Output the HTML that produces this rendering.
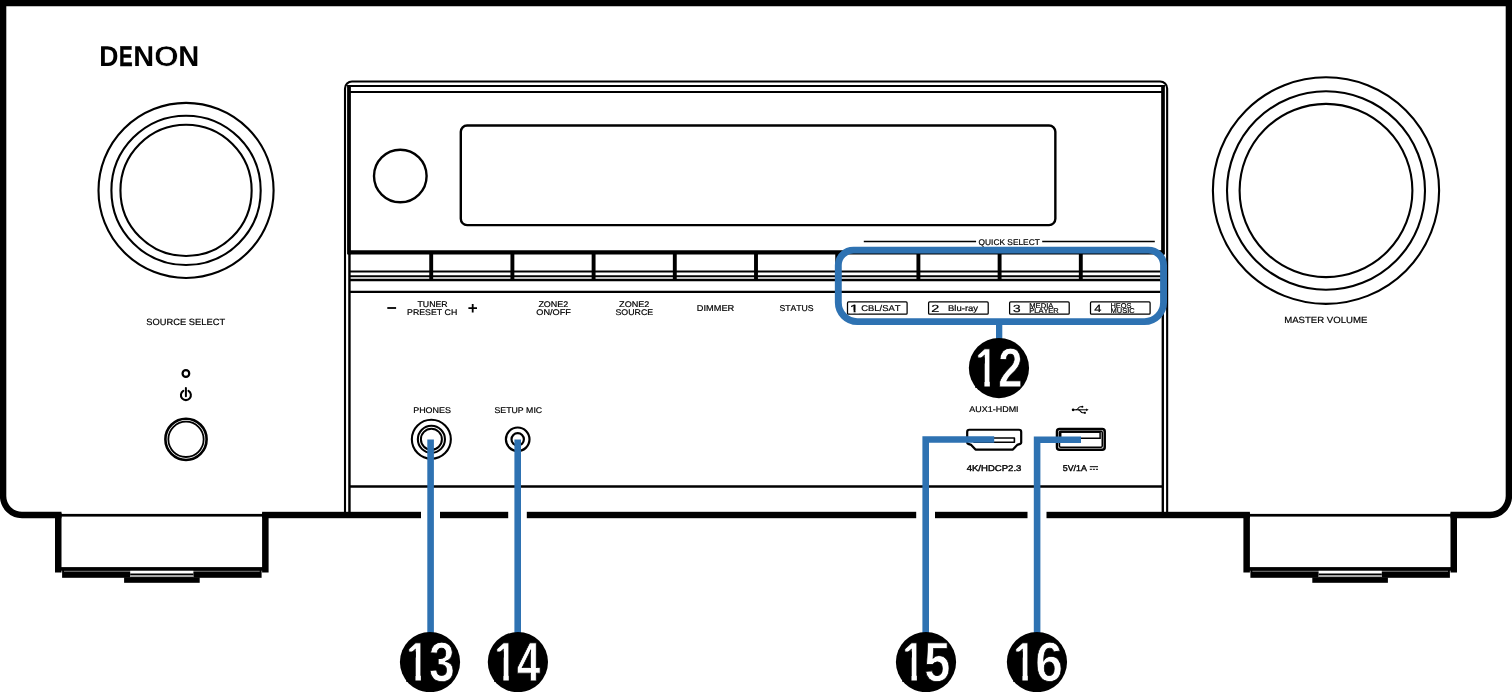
<!DOCTYPE html>
<html lang="en">
<head>
<meta charset="utf-8">
<title>DENON front panel</title>
<style>
html,body{margin:0;padding:0;background:#fff;}
body{width:1512px;height:692px;overflow:hidden;}
svg{display:block;will-change:transform;}
svg text{font-family:"Liberation Sans", Arial, Helvetica, sans-serif;font-kerning:none;text-rendering:geometricPrecision;}
</style>
</head>
<body>
<svg width="1512" height="692" viewBox="0 0 1512 692">
<rect x="0" y="0" width="1512" height="692" fill="#fff"/>
<g fill="none" stroke="#000" stroke-linejoin="miter">
<path d="M3.1,-5 V496.1 A18.9,18.9 0 0 0 22.0,515.0 H61.5" stroke-width="6.4"/>
<path d="M1508.9,-5 V496.1 A18.9,18.9 0 0 1 1490.0,515.0 H1450.5" stroke-width="6.4"/>
<path d="M-5,3.1 H1517" stroke-width="6.3"/>
</g>
<rect x="262.1" y="511.8" width="158.90" height="6.4" fill="#000"/>
<rect x="440.0" y="511.8" width="68.20" height="6.4" fill="#000"/>
<rect x="526.8" y="511.8" width="389.40" height="6.4" fill="#000"/>
<rect x="935.0" y="511.8" width="92.50" height="6.4" fill="#000"/>
<rect x="1046.5" y="511.8" width="203.40" height="6.4" fill="#000"/>
<g>
<rect x="55" y="513" width="6.5" height="59.5" fill="#000"/>
<rect x="262.1" y="513" width="6.5" height="59.5" fill="#000"/>
<rect x="61" y="513.9" width="201.5" height="2.7" fill="#000"/>
<rect x="58" y="567.1" width="207.6" height="3.6" fill="#000"/>
<rect x="62.1" y="570" width="199.5" height="7.8" fill="#000"/>
<rect x="64" y="570.8" width="195.7" height="0.9" fill="#8a8a8a"/>
<rect x="130.2" y="570.8" width="63.2" height="7" fill="#fff"/>
<rect x="130.2" y="573.5" width="63.2" height="2.0" fill="#000"/>
<rect x="130.2" y="575.5" width="63.2" height="1.3" fill="#c8c8c8"/>
<rect x="124.1" y="577.3" width="75.6" height="5.5" fill="#000"/>
<rect x="130.2" y="576.8" width="63.2" height="1" fill="#000"/>
</g>
<g transform="translate(1512,0) scale(-1,1)">
<rect x="55" y="513" width="6.5" height="59.5" fill="#000"/>
<rect x="262.1" y="513" width="6.5" height="59.5" fill="#000"/>
<rect x="61" y="513.9" width="201.5" height="2.7" fill="#000"/>
<rect x="58" y="567.1" width="207.6" height="3.6" fill="#000"/>
<rect x="62.1" y="570" width="199.5" height="7.8" fill="#000"/>
<rect x="64" y="570.8" width="195.7" height="0.9" fill="#8a8a8a"/>
<rect x="130.2" y="570.8" width="63.2" height="7" fill="#fff"/>
<rect x="130.2" y="573.5" width="63.2" height="2.0" fill="#000"/>
<rect x="130.2" y="575.5" width="63.2" height="1.3" fill="#c8c8c8"/>
<rect x="124.1" y="577.3" width="75.6" height="5.5" fill="#000"/>
<rect x="130.2" y="576.8" width="63.2" height="1" fill="#000"/>
</g>
<g fill="none" stroke="#000">
<path d="M345,512 V88.5 A7,7 0 0 1 352,81.5 H1160.15 A7,7 0 0 1 1167.15,88.5 V512" stroke-width="2.1"/>
<path d="M349.0,85 V254.4" stroke-width="3.8"/>
<path d="M1163.0,85 V254.4" stroke-width="3.7"/>
<path d="M349.45,252 V512" stroke-width="2.45"/>
<path d="M1162.8,252 V512" stroke-width="2.35"/>
<path d="M347.5,85.9 H1164.9" stroke-width="2"/>
<path d="M349.4,92 H1163" stroke-width="2"/>
<path d="M348,252.3 H1164.4" stroke-width="4.3"/>
<path d="M349.4,271.6 H1163" stroke-width="2"/>
<path d="M349.4,276.2 H1163" stroke-width="2"/>
<path d="M349.4,280.0 H1163" stroke-width="2.3"/>
<path d="M349.4,291.9 H1163" stroke-width="2.1"/>
<path d="M349.4,486.5 H1163" stroke-width="2.3"/>
<path d="M431.2,252 V281" stroke-width="3.9"/>
<path d="M512.4,252 V281" stroke-width="3.9"/>
<path d="M593.6,252 V281" stroke-width="3.9"/>
<path d="M674.8,252 V281" stroke-width="3.9"/>
<path d="M756.0,252 V281" stroke-width="3.9"/>
<path d="M837.2,252 V281" stroke-width="3.9"/>
<path d="M918.4,252 V281" stroke-width="3.9"/>
<path d="M999.6,252 V281" stroke-width="3.9"/>
<path d="M1080.8,252 V281" stroke-width="3.9"/>
<rect x="460.8" y="125.55" width="594.55" height="99.55" rx="6.3" ry="6.3" stroke-width="2.4"/>
<circle cx="400.3" cy="176" r="26.3" stroke-width="2.4"/>
</g>
<g fill="none" stroke="#000" stroke-width="2.1">
<circle cx="186.05" cy="190.4" r="87.55"/>
<circle cx="186.05" cy="190.4" r="74.65"/>
<circle cx="186.05" cy="190.4" r="65.6"/>
<ellipse cx="1326" cy="190.52" rx="113.1" ry="113.32"/>
<ellipse cx="1326" cy="190.52" rx="99" ry="99.22"/>
<ellipse cx="1326" cy="190.52" rx="86.4" ry="86.62"/>
</g>
<g fill="none" stroke="#000">
<circle cx="185.9" cy="373.5" r="3.35" stroke-width="2.2"/>
<path d="M183.3,390.85 A5.0,5.0 0 1 0 188.5,390.85" stroke-width="2.05" stroke-linecap="round"/>
<path d="M185.9,387.9 V396.2" stroke-width="2.0" stroke-linecap="round"/>
<circle cx="186" cy="439.35" r="20.6" stroke-width="2.6"/>
<circle cx="186" cy="439.35" r="17.65" stroke-width="1.8"/>
</g>
<g fill="none" stroke="#000">
<circle cx="431.35" cy="439.3" r="19.5" stroke-width="2.1"/>
<circle cx="431.4" cy="439.3" r="13.55" stroke-width="2.1"/>
<circle cx="431.4" cy="439.3" r="10.5" stroke-width="2.0"/>
<circle cx="517.7" cy="439.3" r="11.8" stroke-width="2.2"/>
<circle cx="517.7" cy="439.3" r="6.2" stroke-width="2.2"/>
</g>
<g fill="none" stroke="#000" stroke-linejoin="round">
<path d="M969.4,429.75 H1019 Q1021.2,429.75 1021.2,431.95 V442.8 Q1021.2,443.6 1020.2,443.9 L1017.2,444.9 L1012.9,449.6 H975.5 L971.2,444.9 L968.2,443.9 Q967.2,443.6 967.2,442.8 V431.95 Q967.2,429.75 969.4,429.75 Z" stroke-width="2.2"/>
<rect x="974" y="438.0" width="40.4" height="4.3" stroke-width="1.6"/>
</g>
<g fill="none" stroke="#000">
<rect x="1057.0" y="428.9" width="47.7" height="20.8" rx="2.5" stroke-width="2.5"/>
<rect x="1059.45" y="431.35" width="42.8" height="15.9" rx="1.2" stroke-width="1.5"/>
<rect x="1060.7" y="432.2" width="39.4" height="6.05" stroke-width="1.5"/>
</g>
<g fill="none" stroke="#000" stroke-width="1.05" stroke-linejoin="round">
<path d="M1073,409.8 H1087"/>
<path d="M1075.8,409.8 Q1077.2,409.6 1078.2,408.2 Q1079.2,406.7 1080.4,406.7 H1082"/>
<path d="M1078.2,409.8 Q1079.6,410 1080.6,411.4 Q1081.6,412.8 1082.8,412.8 H1084.2"/>
</g>
<circle cx="1073.1" cy="409.8" r="1.35" fill="#000"/>
<path d="M1086.2,408.4 L1088.6,409.8 L1086.2,411.2 Z" fill="#000"/>
<circle cx="1082.4" cy="406.7" r="1.0" fill="#000"/>
<rect x="1083.9" y="411.85" width="1.9" height="1.9" fill="#000"/>
<g fill="none" stroke="#2E72B2" stroke-width="6.6">
<path d="M838.3,265.35 A15.2,15.2 0 0 1 853.5,250.15 H1148.35 A15.2,15.2 0 0 1 1163.55,265.35 V302.6 A19.0,19.0 0 0 1 1144.55,321.6 H857.3 A19.0,19.0 0 0 1 838.3,302.6 Z" stroke-width="6.9"/>
<path d="M999.15,323 V340" stroke-width="6.3"/>
<path d="M430.6,439.5 V640"/>
<path d="M517.7,439.5 V640"/>
<path d="M994.2,439.5 H925.7 V640" stroke-linejoin="miter"/>
<path d="M1081,439.7 H1037.1 V640" stroke-linejoin="miter"/>
</g>
<circle cx="998.95" cy="368.05" r="30.1" fill="#000"/>
<text y="387.15" font-size="55.6" font-weight="700" fill="#fff" stroke="#000" stroke-width="0.8"><tspan x="975.28" textLength="21.79" lengthAdjust="spacingAndGlyphs">1</tspan><tspan x="998.22" textLength="24.27" lengthAdjust="spacingAndGlyphs">2</tspan></text>
<rect x="975.28" y="380.95" width="9.13" height="7" fill="#000"/>
<rect x="975.28" y="357.50" width="9.43" height="6" fill="#000"/>
<rect x="989.83" y="380.95" width="7.45" height="7" fill="#000"/>
<circle cx="430.0" cy="662.1" r="30.1" fill="#000"/>
<text y="681.20" font-size="55.6" font-weight="700" fill="#fff" stroke="#000" stroke-width="0.8"><tspan x="406.33" textLength="21.79" lengthAdjust="spacingAndGlyphs">1</tspan><tspan x="429.04" textLength="25.73" lengthAdjust="spacingAndGlyphs">3</tspan></text>
<rect x="406.33" y="675.00" width="9.13" height="7" fill="#000"/>
<rect x="406.33" y="651.55" width="9.43" height="6" fill="#000"/>
<rect x="420.88" y="675.00" width="7.45" height="7" fill="#000"/>
<circle cx="517.9" cy="662.1" r="30.1" fill="#000"/>
<text y="681.20" font-size="55.6" font-weight="700" fill="#fff" stroke="#000" stroke-width="0.8"><tspan x="494.23" textLength="21.79" lengthAdjust="spacingAndGlyphs">1</tspan><tspan x="516.81" textLength="23.55" lengthAdjust="spacingAndGlyphs">4</tspan></text>
<rect x="494.23" y="675.00" width="9.13" height="7" fill="#000"/>
<rect x="494.23" y="651.55" width="9.43" height="6" fill="#000"/>
<rect x="508.78" y="675.00" width="7.45" height="7" fill="#000"/>
<circle cx="926.0" cy="662.1" r="30.1" fill="#000"/>
<text y="681.20" font-size="55.6" font-weight="700" fill="#fff" stroke="#000" stroke-width="0.8"><tspan x="902.33" textLength="21.79" lengthAdjust="spacingAndGlyphs">1</tspan><tspan x="924.30" textLength="26.07" lengthAdjust="spacingAndGlyphs">5</tspan></text>
<rect x="902.33" y="675.00" width="9.13" height="7" fill="#000"/>
<rect x="902.33" y="651.55" width="9.43" height="6" fill="#000"/>
<rect x="916.88" y="675.00" width="7.45" height="7" fill="#000"/>
<circle cx="1036.95" cy="662.1" r="30.1" fill="#000"/>
<text y="681.20" font-size="55.6" font-weight="700" fill="#fff" stroke="#000" stroke-width="0.8"><tspan x="1013.28" textLength="21.79" lengthAdjust="spacingAndGlyphs">1</tspan><tspan x="1035.26" textLength="27.63" lengthAdjust="spacingAndGlyphs">6</tspan></text>
<rect x="1013.28" y="675.00" width="9.13" height="7" fill="#000"/>
<rect x="1013.28" y="651.55" width="9.43" height="6" fill="#000"/>
<rect x="1027.83" y="675.00" width="7.45" height="7" fill="#000"/>
<text y="66.15" font-size="28.75" font-weight="700" fill="#000"><tspan x="99.22" textLength="19.20" lengthAdjust="spacingAndGlyphs">D</tspan><tspan x="119.03" textLength="13.67" lengthAdjust="spacingAndGlyphs" stroke="#000" stroke-width="0.5">E</tspan><tspan x="133.26" textLength="20.87" lengthAdjust="spacingAndGlyphs">N</tspan><tspan x="153.90" textLength="24.74" lengthAdjust="spacingAndGlyphs" stroke="#fff" stroke-width="0.6">O</tspan><tspan x="178.25" textLength="21.00" lengthAdjust="spacingAndGlyphs">N</tspan></text>
<text x="146.38" y="324.50" font-size="9.1" textLength="78.74" lengthAdjust="spacingAndGlyphs" stroke="#000" stroke-width="0.2" fill="#000">SOURCE SELECT</text>
<text x="1284.21" y="323.30" font-size="9.1" textLength="83.20" lengthAdjust="spacingAndGlyphs" stroke="#000" stroke-width="0.2" fill="#000">MASTER VOLUME</text>
<text x="417.50" y="306.90" font-size="8.2" textLength="30.10" lengthAdjust="spacingAndGlyphs" stroke="#000" stroke-width="0.2" fill="#000">TUNER</text>
<text x="407.08" y="314.80" font-size="8.2" textLength="50.13" lengthAdjust="spacingAndGlyphs" stroke="#000" stroke-width="0.2" fill="#000">PRESET CH</text>
<text x="538.42" y="306.90" font-size="8.2" textLength="29.83" lengthAdjust="spacingAndGlyphs" stroke="#000" stroke-width="0.2" fill="#000">ZONE2</text>
<text x="536.27" y="314.80" font-size="8.2" textLength="34.60" lengthAdjust="spacingAndGlyphs" stroke="#000" stroke-width="0.2" fill="#000">ON/OFF</text>
<text x="619.11" y="306.90" font-size="8.2" textLength="30.24" lengthAdjust="spacingAndGlyphs" stroke="#000" stroke-width="0.2" fill="#000">ZONE2</text>
<text x="615.50" y="314.80" font-size="8.2" textLength="37.58" lengthAdjust="spacingAndGlyphs" stroke="#000" stroke-width="0.2" fill="#000">SOURCE</text>
<text x="696.84" y="310.90" font-size="8.5" textLength="37.38" lengthAdjust="spacingAndGlyphs" stroke="#000" stroke-width="0.2" fill="#000">DIMMER</text>
<text x="779.41" y="310.90" font-size="8.5" textLength="34.19" lengthAdjust="spacingAndGlyphs" stroke="#000" stroke-width="0.2" fill="#000">STATUS</text>
<text x="978.60" y="244.75" font-size="8.35" textLength="61.19" lengthAdjust="spacingAndGlyphs" stroke="#000" stroke-width="0.2" fill="#000">QUICK SELECT</text>
<text x="413.16" y="412.75" font-size="8.35" textLength="37.85" lengthAdjust="spacingAndGlyphs" stroke="#000" stroke-width="0.2" fill="#000">PHONES</text>
<text x="494.50" y="412.75" font-size="8.35" textLength="47.63" lengthAdjust="spacingAndGlyphs" stroke="#000" stroke-width="0.2" fill="#000">SETUP MIC</text>
<text x="969.38" y="412.30" font-size="8.35" textLength="49.24" lengthAdjust="spacingAndGlyphs" stroke="#000" stroke-width="0.2" fill="#000">AUX1-HDMI</text>
<text x="966.68" y="471.20" font-size="8.3" textLength="54.74" lengthAdjust="spacingAndGlyphs" stroke="#000" stroke-width="0.36" fill="#000">4K/HDCP2.3</text>
<text x="1062.75" y="471.20" font-size="8.3" textLength="24.07" lengthAdjust="spacingAndGlyphs" stroke="#000" stroke-width="0.36" fill="#000">5V/1A</text>
<path d="M1089.8,466.7 H1098" stroke="#000" stroke-width="1.0" fill="none"/>
<path d="M1089.8,469.3 H1098" stroke="#000" stroke-width="1.0" stroke-dasharray="2.1 0.95" fill="none"/>
<path d="M387.3,308 H396.1" stroke="#000" stroke-width="1.8" fill="none"/>
<path d="M468.4,308.2 H477 M472.7,304 V312.5" stroke="#000" stroke-width="1.8" fill="none"/>
<path d="M863.8,241.5 H976.1 M1042.2,241.5 H1154.8" stroke="#000" stroke-width="1.4" fill="none"/>
<rect x="847.5" y="301.9" width="59.6" height="12.3" rx="1" fill="none" stroke="#000" stroke-width="1.25"/>
<rect x="928.6" y="301.9" width="59.6" height="12.3" rx="1" fill="none" stroke="#000" stroke-width="1.25"/>
<rect x="1009.6" y="301.9" width="59.6" height="12.3" rx="1" fill="none" stroke="#000" stroke-width="1.25"/>
<rect x="1090.5" y="301.9" width="59.6" height="12.3" rx="1" fill="none" stroke="#000" stroke-width="1.25"/>
<text x="849.86" y="311.6" font-size="10.4" textLength="8.9" lengthAdjust="spacingAndGlyphs" stroke="#000" stroke-width="0.28">1</text>
<rect x="850.0" y="310.45" width="3.6" height="2.75" fill="#fff"/>
<rect x="855.6" y="310.45" width="3.3" height="2.75" fill="#fff"/>
<text x="861.22" y="311.30" font-size="8.4" textLength="39.30" lengthAdjust="spacingAndGlyphs" stroke="#000" stroke-width="0.2" fill="#000">CBL/SAT</text>
<text x="931.37" y="311.60" font-size="10.4" textLength="8.06" lengthAdjust="spacingAndGlyphs" stroke="#000" stroke-width="0.2" fill="#000">2</text>
<text x="948.02" y="311.30" font-size="8.4" textLength="30.10" lengthAdjust="spacingAndGlyphs" stroke="#000" stroke-width="0.2" fill="#000">Blu-ray</text>
<text x="1012.98" y="311.60" font-size="10.4" textLength="7.62" lengthAdjust="spacingAndGlyphs" stroke="#000" stroke-width="0.2" fill="#000">3</text>
<text x="1029.27" y="307.90" font-size="7.0" textLength="24.14" lengthAdjust="spacingAndGlyphs" stroke="#000" stroke-width="0.2" fill="#000">MEDIA</text>
<text x="1029.29" y="313.10" font-size="7.0" textLength="29.46" lengthAdjust="spacingAndGlyphs" stroke="#000" stroke-width="0.2" fill="#000">PLAYER</text>
<text x="1094.30" y="311.60" font-size="10.4" textLength="7.17" lengthAdjust="spacingAndGlyphs" stroke="#000" stroke-width="0.2" fill="#000">4</text>
<text x="1110.49" y="307.90" font-size="7.0" textLength="21.05" lengthAdjust="spacingAndGlyphs" stroke="#000" stroke-width="0.2" fill="#000">HEOS</text>
<text x="1110.48" y="313.10" font-size="7.0" textLength="24.20" lengthAdjust="spacingAndGlyphs" stroke="#000" stroke-width="0.2" fill="#000">MUSIC</text>
</svg>
</body>
</html>
